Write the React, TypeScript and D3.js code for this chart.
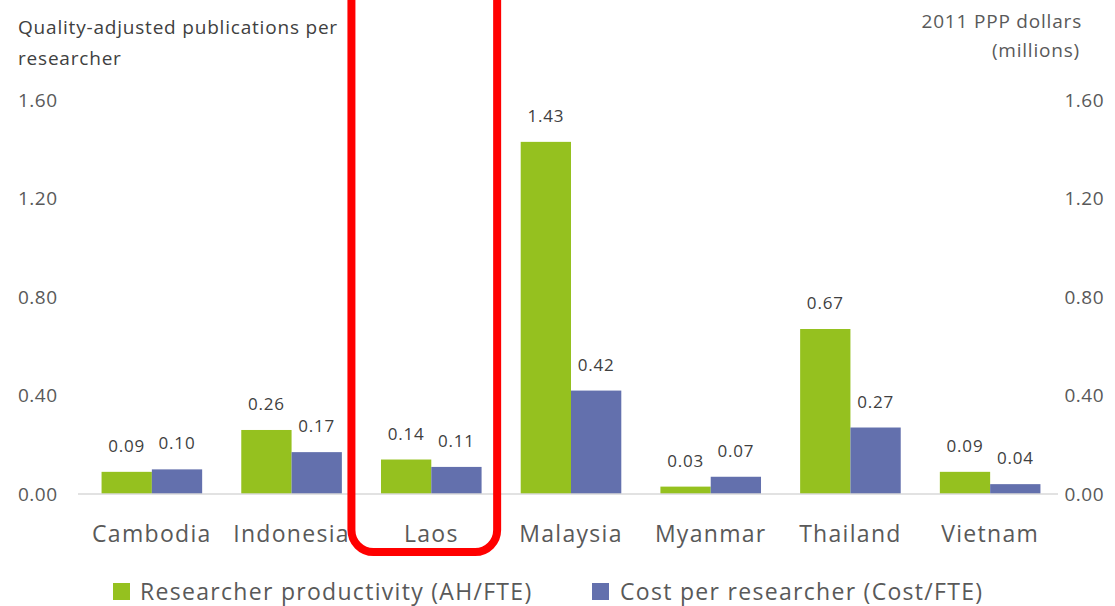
import React from 'react';
import * as d3 from 'd3';

const countries = ['Cambodia', 'Indonesia', 'Laos', 'Malaysia', 'Myanmar', 'Thailand', 'Vietnam'];
const productivity = [0.09, 0.26, 0.14, 1.43, 0.03, 0.67, 0.09];
const costPerResearcher = [0.10, 0.17, 0.11, 0.42, 0.07, 0.27, 0.04];
const ticks = [0, 0.4, 0.8, 1.2, 1.6];
const seriesNames = ['Researcher productivity (AH/FTE)', 'Cost per researcher (Cost/FTE)'];
const highlight = 'Laos';

const width = 1115;
const height = 606;
const green = '#95c11f';
const blue = '#6370ad';
const font = "'Open Sans', sans-serif";

export default function App() {
  const x = d3.scaleBand<string>()
    .domain(countries)
    .range([82, 1060])
    .paddingInner(0.28)
    .paddingOuter(0.14);

  const y = d3.scaleLinear().domain([0, 1.6]).range([494, 100]);
  const yRight = d3.scaleLinear().domain([0, 1.6]).range([494, 100]);

  const sub = d3.scaleBand<number>()
    .domain([0, 1])
    .range([0, x.bandwidth()]);

  const fmt = d3.format('.2f');
  const series = [productivity, costPerResearcher];
  const colors = [green, blue];

  const hx = (x(highlight) ?? 0) - (x.step() - x.bandwidth()) / 2;

  return (
    <svg width={width} height={height} style={{ position: 'absolute', left: 0, top: 0, background: '#fff' }}>
      {/* axis titles */}
      <text x={18} y={34} fontFamily={font} fontSize={19} letterSpacing={0.8} fill="#404040">Quality-adjusted publications per</text>
      <text x={18} y={65} fontFamily={font} fontSize={19} letterSpacing={0.8} fill="#404040">researcher</text>
      <text x={1082} y={28} textAnchor="end" fontFamily={font} fontSize={19} letterSpacing={0.8} fill="#595959">2011 PPP dollars</text>
      <text x={1080} y={57} textAnchor="end" fontFamily={font} fontSize={19} letterSpacing={0.8} fill="#595959">(millions)</text>

      {/* left ticks */}
      {ticks.map(t => (
        <text key={'l' + t} x={18} y={y(t)} dy="0.35em" fontFamily={font} fontSize={19} letterSpacing={0.5} fill="#595959">{fmt(t)}</text>
      ))}
      {/* right ticks */}
      {ticks.map(t => (
        <text key={'r' + t} x={1104} y={yRight(t)} dy="0.35em" textAnchor="end" fontFamily={font} fontSize={19} letterSpacing={0.5} fill="#595959">{fmt(t)}</text>
      ))}

      {/* bars */}
      {series.map((vals, s) => (
        <g key={s}>
          {vals.map((v, i) => {
            const c = countries[i];
            const bx = (x(c) ?? 0) + (sub(s) ?? 0);
            return (
              <g key={c}>
                <rect x={bx} y={y(v)} width={sub.bandwidth()} height={y(0) - y(v)} fill={colors[s]} />
                <text x={bx + sub.bandwidth() / 2} y={y(v) - 20} textAnchor="middle" fontFamily={font} fontSize={17} letterSpacing={0.8} fill="#404040">{fmt(v)}</text>
              </g>
            );
          })}
        </g>
      ))}

      {/* baseline */}
      <line x1={78} x2={1058} y1={y(0)} y2={y(0)} stroke="#d9d9d9" strokeWidth={1.5} />

      {/* category labels */}
      {countries.map(c => (
        <text key={c} x={(x(c) ?? 0) + x.bandwidth() / 2} y={542} textAnchor="middle" fontFamily={font} fontSize={23} letterSpacing={1.3} fill="#595959">{c}</text>
      ))}

      {/* legend */}
      <rect x={113} y={583} width={17} height={17} fill={green} />
      <text x={140} y={600} fontFamily={font} fontSize={23} letterSpacing={1.3} fill="#595959">{seriesNames[0]}</text>
      <rect x={592} y={583} width={17} height={17} fill={blue} />
      <text x={620} y={600} fontFamily={font} fontSize={23} letterSpacing={1.3} fill="#595959">{seriesNames[1]}</text>

      {/* highlight box */}
      <rect x={hx - 10} y={-30} width={x.step() + 6} height={582} rx={22} ry={22} fill="none" stroke="#ff0000" strokeWidth={8} />
    </svg>
  );
}
